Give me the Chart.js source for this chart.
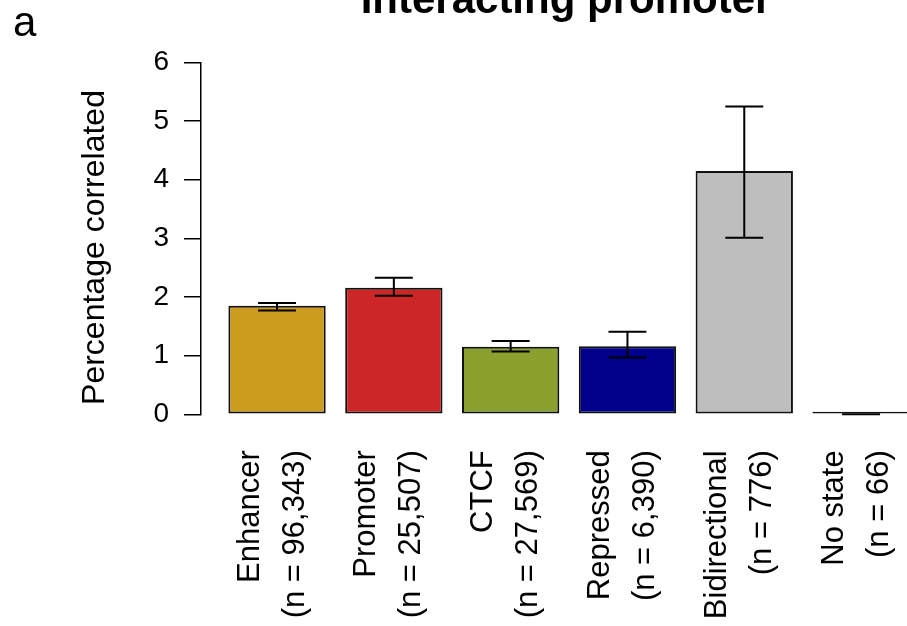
<!DOCTYPE html>
<html>
<head>
<meta charset="utf-8">
<script src="https://cdn.jsdelivr.net/npm/chart.js@4.4.1/dist/chart.umd.min.js"></script>
<style>
    html, body { margin: 0; padding: 0; background: #fff; overflow: hidden; }
    canvas { display: block; }
</style>
</head>
<body>
<canvas id="chart" width="937" height="626"></canvas>
<script>
/* Percentage of pairs correlated per chromatin state, with CI whiskers. */
const stateNames = ['Enhancer', 'Promoter', 'CTCF', 'Repressed', 'Bidirectional', 'No state'];
const stateCounts = ['(n = 96,343)', '(n = 25,507)', '(n = 27,569)', '(n = 6,390)', '(n = 776)', '(n = 66)'];
const pctCorrelated = [1.85, 2.16, 1.15, 1.16, 4.15, 0];
const ciLow = [1.77, 2.02, 1.07, 0.97, 3.01, 0];
const ciHigh = [1.90, 2.33, 1.25, 1.41, 5.25, 0];
const stateColors = ['#CD9B1D', '#CD2626', '#8AA12F', '#00008B', '#BEBEBE', '#FFFFFF'];
const yTicks = [0, 1, 2, 3, 4, 5, 6];

const FONT = '"Liberation Sans", Arial, Helvetica, sans-serif';
Chart.defaults.font.family = FONT;
Chart.defaults.color = '#000';

// whiskers with caps, placed from the bar elements and the y scale
const errorBars = {
    id: 'errorBars',
    afterDatasetsDraw(chart) {
        const { ctx } = chart;
        const y = chart.scales.y;
        const bars = chart.getDatasetMeta(0).data;
        ctx.save();
        ctx.strokeStyle = '#000';
        ctx.lineWidth = 2;
        bars.forEach((bar, i) => {
            const top = y.getPixelForValue(ciHigh[i]);
            const bot = y.getPixelForValue(ciLow[i]);
            const half = bar.width * 0.195;
            ctx.beginPath();
            ctx.moveTo(bar.x, top); ctx.lineTo(bar.x, bot);
            ctx.moveTo(bar.x - half, top); ctx.lineTo(bar.x + half, top);
            ctx.moveTo(bar.x - half, bot); ctx.lineTo(bar.x + half, bot);
            ctx.stroke();
        });
        ctx.restore();
    }
};

// panel letter, main title (runs off the top edge) and y-axis title
const annotations = {
    id: 'annotations',
    afterDraw(chart) {
        const { ctx } = chart;
        ctx.save();
        ctx.fillStyle = '#000';
        ctx.textBaseline = 'alphabetic';
        ctx.textAlign = 'left';
        ctx.font = `42px ${FONT}`;
        ctx.fillText('a', 13, 36);
        ctx.textAlign = 'center';
        ctx.font = `bold 42px ${FONT}`;
        ctx.fillText('Interacting promoter', 566, 13);
        ctx.translate(95, 247.5);
        ctx.rotate(-Math.PI / 2);
        ctx.textBaseline = 'middle';
        ctx.font = `32px ${FONT}`;
        ctx.fillText('Percentage correlated', 0, 0);
        ctx.restore();
    }
};

new Chart(document.getElementById('chart'), {
    type: 'bar',
    data: {
        datasets: [{
            data: pctCorrelated.map((v, i) => ({ x: i, y: v })),
            backgroundColor: stateColors,
            borderColor: '#111',
            borderWidth: 2,
            borderSkipped: false,
            minBarLength: 2.5,
            barPercentage: 1 / 1.2,
            categoryPercentage: 1
        }]
    },
    options: {
        responsive: false,
        animation: false,
        layout: { padding: { top: 62.5, left: 0, right: 0, bottom: 0 } },
        plugins: { legend: { display: false }, tooltip: { enabled: false }, title: { display: false } },
        scales: {
            x: {
                type: 'linear',
                offset: false,
                bounds: 'data',
                min: -0.651,
                max: 5.65,
                afterBuildTicks: s => { s.ticks = stateNames.map((_, i) => ({ value: i })); },
                afterFit: s => {
                    s.height = 626 - 414.3;
                    // rotated labels sit well inside the plot, no side padding needed
                    s.paddingLeft = 0;
                    s.paddingRight = 0;
                },
                grid: { display: false },
                border: { display: false },
                ticks: {
                    autoSkip: false,
                    minRotation: 90,
                    maxRotation: 90,
                    padding: 28,
                    labelOffset: -27,
                    color: '#000',
                    font: { size: 31, lineHeight: 1.45 },
                    callback: (v, i) => [stateNames[i], stateCounts[i]]
                }
            },
            y: {
                min: 0,
                max: 6,
                afterBuildTicks: s => { s.ticks = yTicks.map(v => ({ value: v })); },
                afterFit: s => { s.width = 201; },
                grid: { drawOnChartArea: false, drawTicks: true, tickLength: 17, color: '#000', lineWidth: 1.5 },
                border: { display: true, color: '#000', width: 1.5 },
                ticks: { color: '#000', font: { size: 28 }, padding: 15 }
            }
        }
    },
    plugins: [errorBars, annotations]
});
</script>
</body>
</html>
